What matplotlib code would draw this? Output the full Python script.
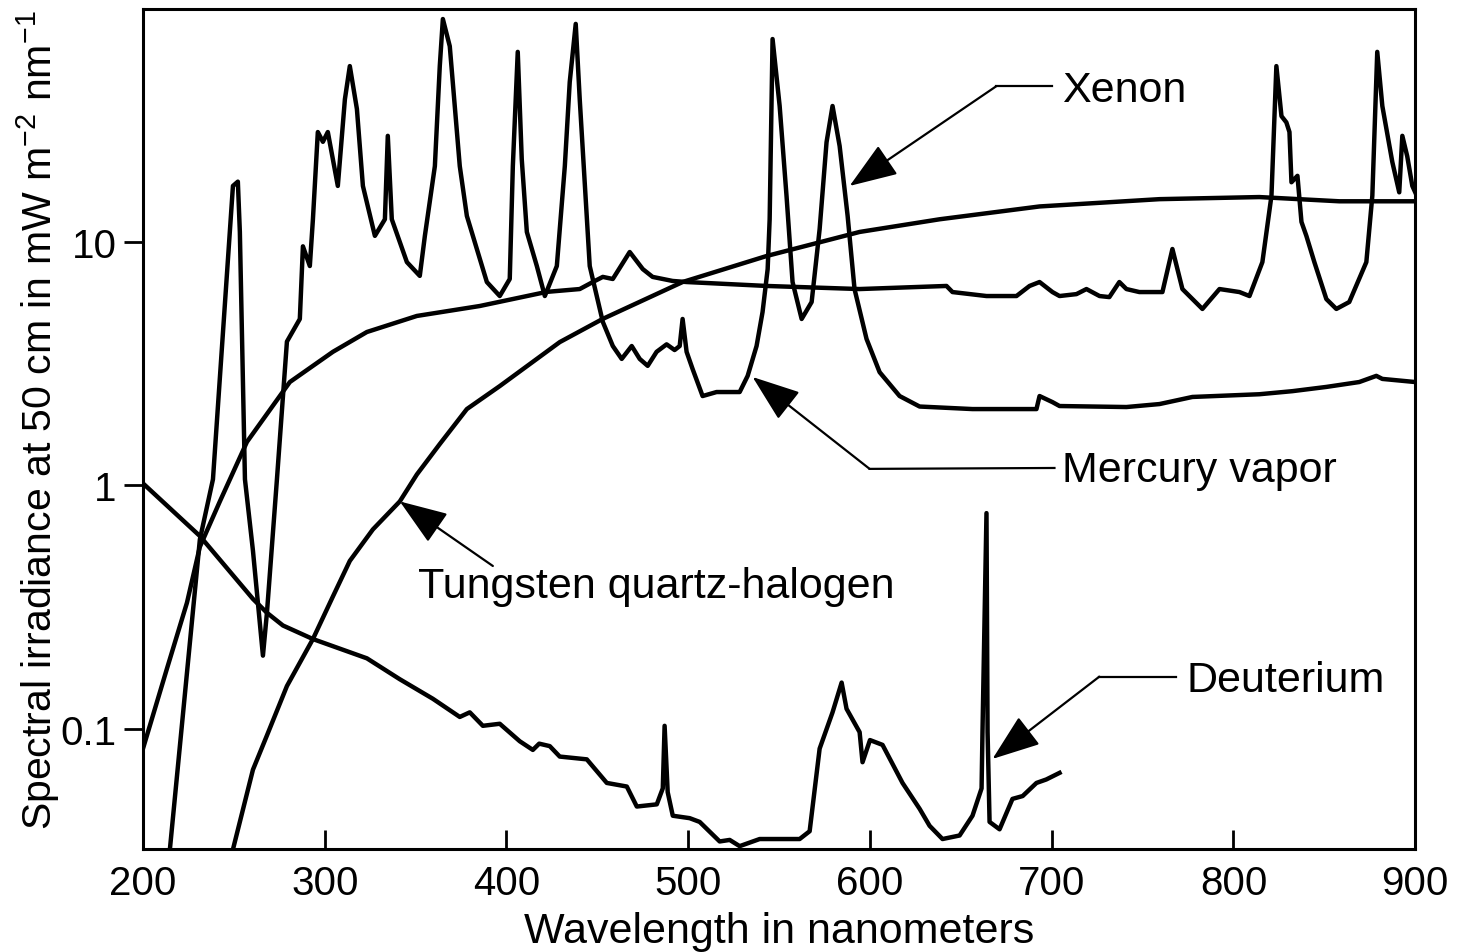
import numpy as np
import matplotlib
matplotlib.use('Agg')
import matplotlib.pyplot as plt
from matplotlib.ticker import FixedLocator, FixedFormatter, NullLocator

plt.rcParams['font.family'] = ['Liberation Sans', 'DejaVu Sans']
plt.rcParams['mathtext.fontset'] = 'custom'
plt.rcParams['mathtext.rm'] = 'Liberation Sans'

# === Spectra: (wavelength nm, irradiance) ===
mercury_pts = [
    (214.8, 0.032), (231.3, 0.60), (238.5, 1.06), (249.5, 17.0), (252.2, 17.7),
    (253.3, 11.0), (256.1, 1.06), (260.5, 0.54), (266.0, 0.20), (268.2, 0.30),
    (273.7, 1.06), (279.2, 3.9), (286.3, 4.83), (288.0, 9.6), (291.8, 7.97),
    (293.5, 12.4), (296.2, 28.3), (299.0, 25.8), (301.7, 28.3), (307.2, 17.0),
    (311.1, 38.6), (313.8, 52.8), (317.7, 35.2), (321.0, 17.0), (327.6, 10.6),
    (333.1, 12.4), (334.7, 27.3), (336.9, 12.4), (345.2, 8.27), (352.3, 7.26),
    (355.1, 10.6), (360.6, 20.5), (363.3, 52.8), (365.0, 82.4), (368.8, 63.7),
    (374.3, 20.5), (378.2, 12.8), (383.7, 9.36), (389.2, 6.85), (396.3, 6.0),
    (401.8, 7.05), (403.5, 20.5), (406.2, 60.4), (408.4, 21.9), (411.2, 11.0),
    (416.7, 7.97), (421.1, 6.0), (427.7, 7.97), (432.1, 20.5), (434.8, 45.4),
    (438.1, 78.7), (440.3, 38.6), (445.8, 7.97), (453.0, 4.7), (458.5, 3.74),
    (463.4, 3.31), (468.9, 3.74), (473.3, 3.31), (477.7, 3.1), (482.6, 3.54),
    (488.1, 3.8), (492.5, 3.6), (495.3, 3.74), (496.9, 4.83), (499.1, 3.54),
    (502.4, 3.01), (507.9, 2.33), (515.6, 2.42), (521.1, 2.42), (528.3, 2.42),
    (532.7, 2.82), (537.6, 3.74), (540.9, 5.16), (543.7, 7.74), (544.8, 12.4),
    (546.4, 68.2), (550.3, 36.2), (554.1, 15.4), (557.4, 6.85), (562.4, 4.83),
    (567.9, 5.67), (572.3, 11.3), (576.1, 25.7), (579.4, 36.2), (583.3, 24.8),
    (587.7, 12.8), (591.5, 6.41), (598.1, 4.0), (605.3, 2.92), (616.3, 2.33),
    (627.3, 2.11), (656.4, 2.06), (691.6, 2.06), (693.3, 2.33), (700.4, 2.2),
    (704.3, 2.12), (741.1, 2.1), (759.3, 2.16), (777.4, 2.31), (814.2, 2.37),
    (832.4, 2.44), (851.1, 2.54), (869.2, 2.66), (878.6, 2.82), (881.9, 2.74),
    (900.0, 2.66),
]

xenon_pts = [
    (200.0, 0.083), (213.2, 0.177), (224.2, 0.33), (231.3, 0.56), (242.3, 0.86),
    (257.2, 1.51), (280.8, 2.66), (304.5, 3.54), (323.2, 4.27), (350.7, 4.97),
    (385.3, 5.46), (422.1, 6.24), (440.3, 6.41), (447.5, 6.85), (453.0, 7.19),
    (458.5, 7.05), (467.8, 9.1), (475.0, 7.74), (480.4, 7.19), (491.4, 6.92),
    (499.1, 6.85), (543.1, 6.6), (594.3, 6.41), (642.1, 6.6), (645.4, 6.23),
    (664.1, 6.0), (680.6, 6.0), (687.8, 6.6), (693.3, 6.85), (700.4, 6.23),
    (704.3, 6.0), (713.6, 6.11), (719.1, 6.41), (726.3, 6.0), (731.7, 5.94),
    (737.2, 6.85), (741.1, 6.41), (748.2, 6.23), (760.9, 6.23), (766.4, 9.36),
    (771.9, 6.41), (782.9, 5.31), (792.3, 6.41), (803.3, 6.23), (808.8, 6.0),
    (815.9, 8.27), (820.9, 15.5), (823.6, 52.8), (826.4, 32.9), (829.1, 31.0),
    (830.8, 28.3), (831.9, 17.6), (835.2, 18.7), (837.4, 12.1), (840.1, 10.6),
    (844.5, 8.27), (851.1, 5.83), (856.6, 5.31), (863.7, 5.67), (873.1, 8.27),
    (876.4, 15.5), (879.1, 60.4), (881.9, 36.2), (887.4, 21.3), (891.2, 16.0),
    (892.9, 27.3), (895.6, 22.5), (898.4, 17.0), (900.0, 16.0),
]

tungsten_pts = [
    (249.5, 0.032), (260.5, 0.068), (268.2, 0.094), (279.2, 0.15), (293.5, 0.234),
    (304.5, 0.35), (313.8, 0.49), (326.5, 0.66), (341.3, 0.86), (350.7, 1.11),
    (363.3, 1.48), (378.2, 2.06), (396.3, 2.56), (429.3, 3.88), (452.9, 4.83),
    (496.9, 6.85), (543.1, 8.76), (594.3, 11.0), (638.3, 12.4), (693.3, 14.0),
    (759.3, 15.0), (814.2, 15.3), (858.2, 14.7), (900.0, 14.7),
]

deuterium_pts = [
    (200.0, 1.02), (231.3, 0.62), (260.5, 0.342), (268.2, 0.30), (277.0, 0.266),
    (293.5, 0.234), (323.2, 0.195), (341.3, 0.160), (359.5, 0.133), (374.3, 0.112),
    (379.8, 0.117), (387.0, 0.103), (396.3, 0.105), (407.3, 0.089), (414.5, 0.082),
    (418.0, 0.087), (423.8, 0.085), (429.3, 0.077), (444.2, 0.075), (455.2, 0.060),
    (466.2, 0.058), (471.7, 0.048), (482.7, 0.049), (486.0, 0.057), (487.0, 0.103),
    (488.7, 0.055), (491.5, 0.044), (500.8, 0.043), (506.3, 0.0415), (517.3, 0.0345),
    (522.8, 0.035), (528.3, 0.033), (539.3, 0.0353), (561.3, 0.0353), (566.8, 0.038),
    (572.3, 0.083), (579.4, 0.117), (584.4, 0.155), (587.1, 0.121), (594.3, 0.097),
    (595.9, 0.073), (600.0, 0.090), (606.9, 0.086), (617.9, 0.060), (627.3, 0.047),
    (632.8, 0.040), (639.9, 0.0353), (649.3, 0.0365), (656.4, 0.044), (661.4, 0.057),
    (661.9, 0.097), (664.1, 0.77), (664.7, 0.097), (665.8, 0.0415), (671.3, 0.0387),
    (678.4, 0.0516), (684.0, 0.053), (691.6, 0.060), (697.0, 0.062), (704.3, 0.066),
]

x_ticks = [200, 300, 400, 500, 600, 700, 800, 900]
y_ticks = [0.1, 1, 10]
y_tick_labels = ['0.1', '1', '10']

# === Figure ===
fig = plt.figure(figsize=(14.59, 9.53), dpi=100)
ax = fig.add_axes([0.098, 0.108, 0.872, 0.8815])

for pts in [mercury_pts, xenon_pts, tungsten_pts, deuterium_pts]:
    arr = np.array(pts)
    ax.plot(arr[:, 0], arr[:, 1], color='black', lw=3.2)

ax.set_yscale('log')
ax.set_xlim(200, 900)
ax.set_ylim(0.0321, 90.6)

ax.xaxis.set_major_locator(FixedLocator(x_ticks))
ax.yaxis.set_major_locator(FixedLocator(y_ticks))
ax.yaxis.set_major_formatter(FixedFormatter(y_tick_labels))
ax.yaxis.set_minor_locator(NullLocator())
ax.xaxis.set_minor_locator(NullLocator())

ax.tick_params(axis='x', direction='in', length=14, width=2, pad=11, labelsize=29)
ax.tick_params(axis='y', direction='out', length=14, width=2, pad=5, labelsize=29)
for sp in ax.spines.values():
    sp.set_linewidth(2.2)

ax.set_xlabel('Wavelength in nanometers', fontsize=31, labelpad=6)
ax.set_ylabel(r'Spectral irradiance at 50 cm in mW m$^{\mathrm{-2}}$ nm$^{\mathrm{-1}}$',
              fontsize=29.5)
ax.yaxis.set_label_coords(-0.064, 0.512)

# === Callouts ===
head = '-|>,head_length=30,head_width=11'


def callout(label, tip, bend, end=None, text_xy=None):
    ax.annotate('', xy=tip, xytext=bend,
                arrowprops=dict(arrowstyle=head, mutation_scale=1, color='black',
                                lw=1.6, shrinkA=0, shrinkB=0))
    if end is not None:
        ax.plot([bend[0], end[0]], [bend[1], end[1]], color='black', lw=1.6)
    ax.text(text_xy[0], text_xy[1], label, fontsize=31, ha='left', va='baseline')


callout('Xenon', (588.8, 17.0), (669.6, 43.7), (700.4, 43.7), (705.9, 37.9))
callout('Mercury vapor', (535.4, 2.79), (599.8, 1.17), (701.5, 1.18), (705.9, 1.04))
callout('Tungsten quartz-halogen', (341.3, 0.86), (392.5, 0.467), None, (351.2, 0.348))
callout('Deuterium', (667.4, 0.0753), (726.2, 0.164), (768.6, 0.164), (774.0, 0.143))

fig.savefig('out.png', dpi=100)
